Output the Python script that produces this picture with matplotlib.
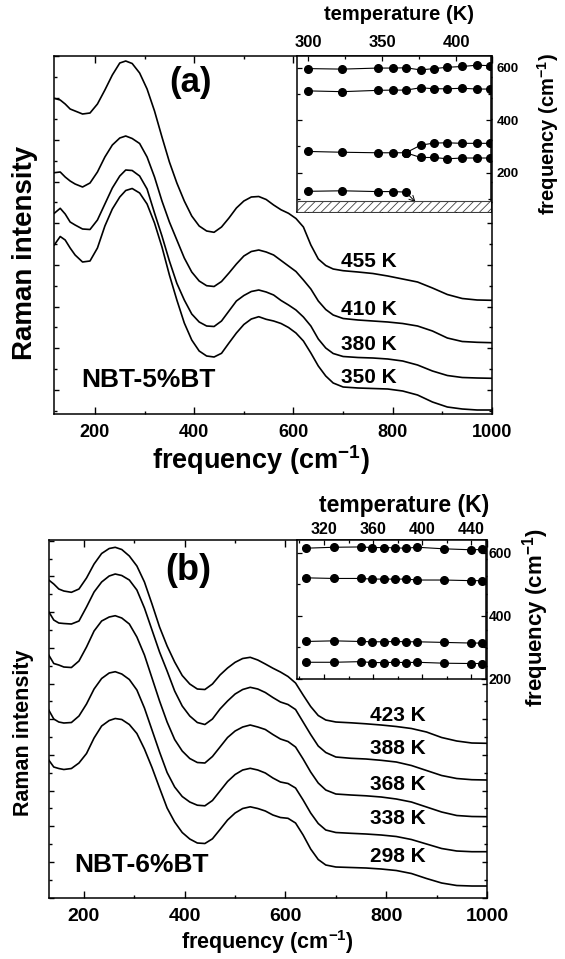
import matplotlib
matplotlib.use('Agg')
import matplotlib.pyplot as plt
from matplotlib.ticker import MultipleLocator, NullFormatter

plt.rcParams['font.family'] = ['Liberation Sans', 'DejaVu Sans']
plt.rcParams['font.weight'] = 'bold'
plt.rcParams['axes.labelweight'] = 'bold'
plt.rcParams['mathtext.default'] = 'regular'
plt.rcParams['hatch.linewidth'] = 0.6
plt.rcParams['axes.linewidth'] = 1.1

# ---- panel (a): NBT-5%BT spectra (intensity in arbitrary units) ----
freq_a = [118, 130, 140, 150, 160, 175, 190, 205, 220, 235, 250, 262, 275, 290, 305, 320, 335,
          350, 365, 380, 395, 410, 425, 440, 455, 470, 485, 500, 515, 530, 545, 560, 575, 590,
          605, 620, 635, 650, 665, 680, 700, 730, 760, 790, 820, 850, 880, 910, 940, 970, 1000]
int_455 = [315.7, 314, 310, 305, 303, 300, 301, 310, 324, 339, 351, 353, 350.5, 341, 325, 303, 277,
           252, 231, 213, 198, 188, 183, 181.7, 187, 196, 206, 213, 217, 217.5, 214.5, 209, 204.2, 200.7,
           195.5, 187, 169, 155, 148.5, 145, 143.3, 142, 140.5, 138, 135, 132, 126, 119.5, 115.5, 114, 113.7]
int_410 = [241.3, 242, 237, 233, 230, 227, 231, 242, 257, 269, 276, 278, 275.5, 270.5, 257, 237, 213,
           192, 174, 156, 142, 133, 128.3, 127.5, 132.5, 141, 150, 158, 162.5, 164, 162, 159, 153.5, 148,
           142.5, 134, 125, 113, 104.5, 99, 95.5, 94, 93, 92, 90.5, 88, 83, 76, 72.5, 71.7, 71.3]
int_380 = [200.7, 205.7, 200, 192, 189, 185, 184.5, 194, 210, 226, 238, 244, 243.5, 238, 225, 201, 178,
           153, 130.7, 114, 100, 92, 88, 87.5, 93, 103, 113, 118.5, 122.5, 124, 122, 119, 113.5, 109,
           104, 97, 88, 75, 66, 60.5, 57.5, 56.5, 56, 55, 53, 49, 43, 38.5, 36.5, 36, 35.7]
int_350 = [169, 177.5, 174, 166, 159, 152, 153, 166, 188, 205, 217, 223.5, 225.5, 221, 210, 191, 167,
           139, 114, 91, 74, 63, 58, 57, 60.7, 71, 81, 89.5, 95, 97.3, 94.7, 93, 90.5, 86.5,
           81, 73, 61, 48, 38, 31, 27, 26, 25.5, 25, 23, 19, 12, 7, 5, 4, 4]
labels_a = ['455 K', '410 K', '380 K', '350 K']

# inset (a): mode frequencies vs temperature
temp_a = [300, 323, 347, 357, 366, 376, 385, 394, 404, 414, 423]
mode1_a = [597, 595, 599, 599, 600, 592, 597, 602, 605, 610, 608]
mode2_a = [512, 509, 514, 515, 515, 524, 520, 520, 522, 519, 519]
mode3_a = [281, 278, 276, 276, 276]
mode3hi_a = [305, 313, 314, 312, 312, 312]
mode3lo_a = [258, 258, 253, 256, 256, 256]
mode4_a = [129, 131, 128, 128, 126]

# ---- panel (b): NBT-6%BT spectra ----
freq_b = [130, 140, 150, 160, 175, 190, 205, 220, 235, 250, 262, 275, 290, 305, 320, 335,
          350, 365, 380, 395, 410, 425, 440, 455, 470, 485, 500, 515, 530, 545, 560, 575, 590,
          605, 620, 635, 650, 665, 680, 700, 730, 760, 790, 820, 850, 880, 910, 940, 970, 1000]
int_423 = [318, 314, 309, 307, 305.7, 309, 320, 334, 344.5, 349.5, 350.7, 348.5, 342, 332, 316, 294,
           271, 252, 236, 222.5, 214, 209, 208.5, 214, 223, 230, 235.7, 239.5, 240.7, 238, 234, 229.8, 226,
           221.5, 215, 203, 191.5, 182.5, 178, 176, 175.2, 174.2, 173, 171.5, 169.5, 166, 160.5, 157, 155, 154.7]
int_388 = [286.3, 278, 275, 274.5, 274, 277, 291, 306, 316, 322, 324, 322.5, 318, 308, 290, 268,
           246, 227, 207, 192, 182, 175.5, 173.5, 179, 189, 197, 204, 208.5, 210.7, 209, 205.5, 200.5, 196,
           193.5, 188.5, 176, 163.5, 152, 145.5, 141, 139.7, 139, 137.7, 136, 132.5, 127.5, 122.5, 119.5, 118.3, 118]
int_368 = [243, 234.5, 233, 231, 230.5, 237, 251, 267, 277, 281, 282.3, 280, 274, 261, 243, 220,
           197, 176, 158.5, 147, 139.5, 135.5, 135, 141.5, 151, 160.5, 167, 171, 173, 171, 168.5, 163.5, 159,
           156.5, 151, 139, 126, 115, 108, 104, 103, 102.2, 101, 99, 96, 91, 86, 82.5, 81.5, 81.3]
int_338 = [188, 179, 176, 175, 175.5, 182, 194, 209, 219.5, 225, 226.3, 224, 218.5, 208, 190, 168,
           146, 125.5, 111, 101.5, 96, 92.8, 92.2, 97.5, 107, 116.5, 123.5, 128, 129.7, 128, 125, 120, 116,
           114.5, 110, 98, 85, 74.5, 68, 65.5, 64.7, 64, 63, 61.5, 58.5, 54, 49.5, 47, 46.3, 46.3]
int_298 = [138, 131, 129.5, 128.5, 129.5, 135, 144.5, 160, 172, 177.5, 179.5, 178.5, 173.5, 164.5, 149, 130.5,
           110, 90, 76, 65.5, 59, 55, 54.5, 59.2, 68.5, 78, 85, 89.5, 91.2, 89.5, 87, 83, 80.5,
           79.7, 75, 63, 49, 38.5, 33, 31, 30.5, 30, 29, 27.5, 24.5, 19.5, 15, 12.5, 12, 12]
labels_b = ['423 K', '388 K', '368 K', '338 K', '298 K']

# inset (b)
temp_b = [305, 328, 350, 359, 369, 378, 387, 396, 418, 440, 449]
mode1_b = [615, 618, 619, 617, 617, 616, 615, 618, 613, 610, 611]
mode2_b = [521, 519, 519, 517, 517, 517, 517, 514, 514, 512, 512]
mode3_b = [319, 321, 319, 318, 318, 319, 318, 318, 316, 314, 314]
mode4_b = [253, 253, 255, 252, 252, 253, 252, 253, 250, 249, 249]

wlabel = r'frequency (cm$^{-1}$)'


def style_main(ax, xlo, ystep, yoff, fs):
    ax.set_xlim(xlo, 1000)
    ax.set_ylim(0, 358)
    ax.xaxis.set_major_locator(MultipleLocator(200))
    ax.xaxis.set_minor_locator(MultipleLocator(100))
    ax.yaxis.set_major_locator(MultipleLocator(ystep, offset=yoff))
    ax.yaxis.set_minor_locator(MultipleLocator(ystep / 2, offset=yoff))
    ax.yaxis.set_major_formatter(NullFormatter())
    ax.tick_params(which='both', direction='in', top=True, right=True, labelsize=fs)
    ax.tick_params(axis='x', which='major', length=5, width=1, pad=7)
    ax.tick_params(axis='x', which='minor', length=2.5, width=1)
    ax.tick_params(axis='y', which='major', length=3.5, width=1)
    ax.tick_params(axis='y', which='minor', length=2, width=1)


def style_inset(ax, xlim, ylim, xstep, xfs, yfs, xpad, ypad):
    ax.set_xlim(*xlim)
    ax.set_ylim(*ylim)
    ax.xaxis.set_major_locator(MultipleLocator(xstep))
    ax.xaxis.set_minor_locator(MultipleLocator(xstep / 2))
    ax.yaxis.set_major_locator(MultipleLocator(200))
    ax.yaxis.set_minor_locator(MultipleLocator(100))
    ax.tick_params(which='both', direction='in', top=True, bottom=True, left=True, right=True,
                   labeltop=True, labelbottom=False, labelleft=False, labelright=True)
    ax.tick_params(which='major', length=3.5, width=0.9)
    ax.tick_params(which='minor', length=2, width=0.9)
    ax.tick_params(axis='x', labelsize=xfs, pad=xpad)
    ax.tick_params(axis='y', labelsize=yfs, pad=ypad)
    ax.xaxis.set_label_position('top')
    ax.yaxis.set_label_position('right')


fig = plt.figure(figsize=(5.65, 9.59), dpi=100)

# ---------------- panel (a) ----------------
ax = fig.add_axes([0.0956, 0.5683, 0.7752, 0.3733])
for spec in [int_455, int_410, int_380, int_350]:
    ax.plot(freq_a, spec, color='k', lw=1.2)
style_main(ax, 117.5, 41.7, 24, 13)
ax.set_xlabel(wlabel, fontsize=19.5)
ax.xaxis.set_label_coords(0.473, -0.128)
ax.xaxis.label.set_va('center')
ax.set_ylabel('Raman intensity', fontsize=20)
ax.yaxis.set_label_coords(-0.066, 0.451)
ax.yaxis.label.set_va('center')
ax.text(0.311, 0.925, '(a)', transform=ax.transAxes, fontsize=25, ha='center', va='center')
ax.text(0.215, 0.095, 'NBT-5%BT', transform=ax.transAxes, fontsize=19, ha='center', va='center')
for lab, ypos in zip(labels_a, [0.425, 0.293, 0.193, 0.103]):
    ax.text(0.719, ypos, lab, transform=ax.transAxes, fontsize=15, ha='center', va='center')

ins = fig.add_axes([0.5257, 0.7789, 0.3434, 0.1627])
mk = dict(color='k', marker='o', ms=5.5, lw=0.8)
ins.plot(temp_a, mode1_a, **mk)
ins.plot(temp_a, mode2_a, **mk)
ins.plot(temp_a[:5], mode3_a, **mk)
ins.plot([temp_a[4]] + temp_a[5:], [mode3_a[-1]] + mode3hi_a, **mk)
ins.plot([temp_a[4]] + temp_a[5:], [mode3_a[-1]] + mode3lo_a, **mk)
ins.plot(temp_a[:5], mode4_a, **mk)
ins.annotate('', xy=(372.5, 88), xytext=(temp_a[4], mode4_a[-1]),
             arrowprops=dict(arrowstyle='->', lw=0.7, color='k', shrinkA=3, shrinkB=0))
ins.axhspan(50, 93, facecolor='white', edgecolor='0.25', hatch='////', lw=0.8, zorder=3)
style_inset(ins, (292.5, 423.5), (50, 645), 50, 12, 9.5, 4, 4)
ins.set_xlabel('temperature (K)', fontsize=14.5)
ins.xaxis.set_label_coords(0.526, 1.263)
ins.xaxis.label.set_va('center')
ins.set_ylabel(wlabel, fontsize=14.5)
ins.yaxis.set_label_coords(1.294, 0.5)
ins.yaxis.label.set_va('center')

# ---------------- panel (b) ----------------
ax = fig.add_axes([0.0867, 0.0636, 0.7752, 0.3733])
for spec in [int_423, int_388, int_368, int_338, int_298]:
    ax.plot(freq_b, spec, color='k', lw=1.2)
style_main(ax, 130.5, 35.7, 0.3, 14)
ax.set_xlabel(wlabel, fontsize=15.5)
ax.xaxis.set_label_coords(0.499, -0.123)
ax.xaxis.label.set_va('center')
ax.set_ylabel('Raman intensity', fontsize=15.5)
ax.yaxis.set_label_coords(-0.059, 0.461)
ax.yaxis.label.set_va('center')
ax.text(0.317, 0.916, '(b)', transform=ax.transAxes, fontsize=26, ha='center', va='center')
ax.text(0.212, 0.092, 'NBT-6%BT', transform=ax.transAxes, fontsize=19, ha='center', va='center')
for lab, ypos in zip(labels_b, [0.511, 0.419, 0.318, 0.223, 0.115]):
    ax.text(0.797, ypos, lab, transform=ax.transAxes, fontsize=15, ha='center', va='center')

ins = fig.add_axes([0.5257, 0.2920, 0.3345, 0.1449])
for mode in [mode1_b, mode2_b, mode3_b, mode4_b]:
    ins.plot(temp_b, mode, **mk)
style_inset(ins, (298, 452), (200, 641), 40, 11.5, 10, 2, 2)
ins.set_xlabel('temperature (K)', fontsize=16.5)
ins.xaxis.set_label_coords(0.566, 1.245)
ins.xaxis.label.set_va('center')
ins.set_ylabel(wlabel, fontsize=16)
ins.yaxis.set_label_coords(1.264, 0.44)
ins.yaxis.label.set_va('center')

fig.savefig('out.png', dpi=100)
